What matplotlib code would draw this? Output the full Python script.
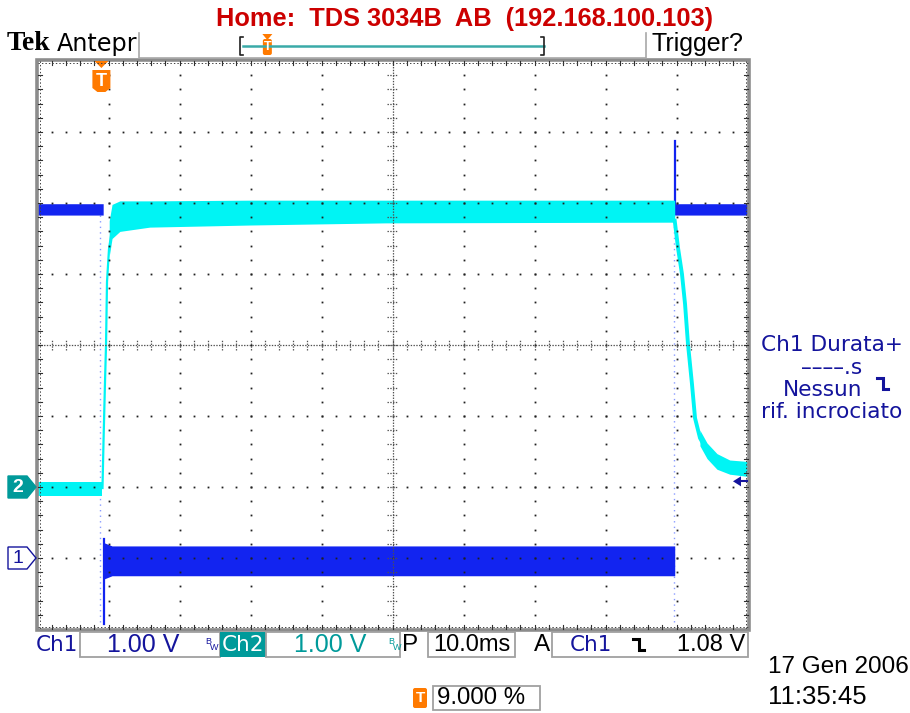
import matplotlib
matplotlib.use('Agg')
import matplotlib.pyplot as plt
from matplotlib.patches import Polygon, Rectangle, FancyBboxPatch
import numpy as np

plt.rcParams['lines.scale_dashes'] = False

TIME_PER_DIV_MS = 10.0
TRIGGER_POS_PCT = 9.0
CH1_OFFSET_DIV = -3.0
CH2_OFFSET_DIV = -2.0
TRIG_LEVEL_V = 1.08
N_HDIV, N_VDIV = 10, 8

# ---------------- Ch1 (blue) data: time ms, volts ----------------
ch1_band_t  = [-9.0, 0.25, 0.25, 1.5, 80.75, 80.75, 91.0]
ch1_band_lo = [4.83, 4.83, -0.30, -0.25, -0.25, 4.83, 4.83]
ch1_band_hi = [4.99, 4.99, 0.22, 0.17, 0.17, 4.99, 4.99]
ch1_spike1_t = [0.30, 0.30]
ch1_spike1_v = [-0.93, 0.27]
ch1_spike2_t = [80.75, 80.75]
ch1_spike2_v = [4.85, 5.87]
ch1_trans_t = [-0.2, 80.6]
ch1_trans_v = [-0.9, 4.9]

# ---------------- Ch2 (cyan) data ----------------
ch2_pre_t  = [-9.0, 0.15]
ch2_pre_lo = [-0.13, -0.13]
ch2_pre_hi = [0.07, 0.07]
ch2_rise_t = [0.15, 0.30, 0.51, 0.65, 0.79, 1.07, 1.49, 1.92]
ch2_rise_v = [-0.03, 0.65, 1.49, 1.99, 2.89, 3.35, 3.63, 3.80]
ch2_top_t  = [1.1, 1.5, 2.6, 6.8, 21.0, 40.0, 80.75]
ch2_top_hi = [3.75, 3.98, 4.03, 4.03, 4.04, 4.04, 4.04]
ch2_top_lo = [3.25, 3.50, 3.60, 3.66, 3.69, 3.72, 3.73]
ch2_fall_t = [80.75, 81.21, 81.77, 82.20, 82.62, 83.18, 83.61, 84.31, 85.30, 86.70, 88.54, 90.65, 91.0]
ch2_fall_v = [3.75, 3.37, 3.00, 2.58, 2.01, 1.45, 0.97, 0.69, 0.51, 0.37, 0.30, 0.27, 0.27]
ch2_tail_t  = [84.3, 85.3, 86.7, 88.5, 91.0]
ch2_tail_hi = [0.80, 0.62, 0.47, 0.38, 0.36]
ch2_tail_lo = [0.58, 0.40, 0.25, 0.18, 0.15]

# ---------------- texts ----------------
title_text = "Home:  TDS 3034B  AB  (192.168.100.103)"
meas_lines = ["Ch1 Durata+", "––––.s", "Nessun", "rif. incrociato"]
ch1_scale = "1.00 V"
ch2_scale = "1.00 V"
time_scale = "10.0ms"
trig_src = "Ch1"
trig_level = "1.08 V"
trig_pos_text = "9.000 %"
date_text = "17 Gen 2006"
time_text = "11:35:45"

C_CH1 = '#1224F0'
C_CH2 = '#00F4F4'
C_NAVY = '#14149C'
C_TEAL = '#009A9A'
C_ORANGE = '#FF7A00'
C_GRAY = '#8C8C8C'
SANS = ['Liberation Sans', 'DejaVu Sans']
DV = ['DejaVu Sans']

W, H = 910, 713
AX_L, AX_R, AX_T, AX_B = 37.5, 747.5, 61.0, 629.0
fig = plt.figure(figsize=(W / 100, H / 100), dpi=100)
fig.patch.set_facecolor('white')
ax = fig.add_axes([AX_L / W, 1 - AX_B / H, (AX_R - AX_L) / W, (AX_B - AX_T) / H], zorder=1)
t0 = -TRIGGER_POS_PCT / 100 * N_HDIV * TIME_PER_DIV_MS
t1 = t0 + N_HDIV * TIME_PER_DIV_MS
ax.set_xlim(t0, t1)
ax.set_ylim(-N_VDIV / 2, N_VDIV / 2)
ax.set_xticks([]); ax.set_yticks([])
for s in ax.spines.values():
    s.set_visible(False)

def d1(v):
    return [CH1_OFFSET_DIV + x for x in v]
def d2(v):
    return [CH2_OFFSET_DIV + x for x in v]

# traces
ax.plot(ch1_trans_t[:1] * 2, d1(ch1_trans_v), color='#8A9CFF', lw=1, ls=(0, (1, 3)), zorder=2)
ax.plot(ch1_trans_t[1:] * 2, d1(ch1_trans_v), color='#8A9CFF', lw=1, ls=(0, (1, 3)), zorder=2)
ax.fill_between(ch1_band_t, d1(ch1_band_lo), d1(ch1_band_hi), color=C_CH1, lw=0, zorder=2)
ax.plot(ch1_spike1_t, d1(ch1_spike1_v), color=C_CH1, lw=1.6, zorder=2)
ax.plot(ch1_spike2_t, d1(ch1_spike2_v), color=C_CH1, lw=1.6, zorder=2)

ax.fill_between(ch2_pre_t, d2(ch2_pre_lo), d2(ch2_pre_hi), color=C_CH2, lw=0, zorder=3)
ax.plot(ch2_rise_t, d2(ch2_rise_v), color=C_CH2, lw=1.6, zorder=3, solid_capstyle='butt')
ax.fill_between(ch2_top_t, d2(ch2_top_lo), d2(ch2_top_hi), color=C_CH2, lw=0, zorder=3)
ax.plot(ch2_fall_t, d2(ch2_fall_v), color=C_CH2, lw=2.8, zorder=3)
ax.fill_between(ch2_tail_t, d2(ch2_tail_lo), d2(ch2_tail_hi), color=C_CH2, lw=0, zorder=3)

# graticule
sub = 5
tdiv = TIME_PER_DIV_MS
xs_minor = [t0 + i * tdiv / sub for i in range(1, N_HDIV * sub)]
ys_minor = [-N_VDIV / 2 + j / sub for j in range(1, N_VDIV * sub)]
xc = t0 + N_HDIV / 2 * tdiv
gx, gy = [], []
for k in range(1, N_HDIV):
    if k == N_HDIV // 2:
        continue
    xv = t0 + k * tdiv
    for yv in ys_minor:
        gx.append(xv); gy.append(yv)
for k in range(1, N_VDIV):
    if k == N_VDIV // 2:
        continue
    yv = -N_VDIV / 2 + k
    for xv in xs_minor:
        gx.append(xv); gy.append(yv)
ax.plot(gx, gy, ls='none', marker='s', ms=1.3, mew=0, color='#202020', zorder=5)
# center cross
ax.plot([t0, t1], [0, 0], color='#505050', lw=0.9, ls=(0, (1, 1)), zorder=5)
ax.plot([xc, xc], [-4, 4], color='#505050', lw=0.9, ls=(0, (1, 1)), zorder=5)
for xv in xs_minor:
    ax.plot([xv, xv], [-0.075, 0.075], color='#505050', lw=0.9, ls=(0, (1, 1)), zorder=5)
for yv in ys_minor:
    ax.plot([xc - 0.75, xc + 0.75], [yv, yv], color='#505050', lw=0.9, ls=(0, (1, 1)), zorder=5)

# overlay in pixel coordinates
ov = fig.add_axes([0, 0, 1, 1], zorder=5)
ov.set_xlim(0, W); ov.set_ylim(H, 0); ov.axis('off'); ov.patch.set_alpha(0)
PX = (AX_R - AX_L) / N_HDIV
PY = (AX_B - AX_T) / N_VDIV
yc_px = (AX_T + AX_B) / 2

# frame
ov.add_patch(Rectangle((AX_L - 1, AX_T - 1), AX_R - AX_L + 2, AX_B - AX_T + 2, fill=False, ec=C_GRAY, lw=2.6))
for k in range(1, N_HDIV * sub):
    x = AX_L + k * PX / sub
    ov.plot([x, x], [AX_T, AX_T + 4], color='#303030', lw=0.8)
    ov.plot([x, x], [AX_B, AX_B - 4], color='#303030', lw=0.8)
for k in range(1, N_VDIV * sub):
    y = AX_T + k * PY / sub
    ov.plot([AX_L, AX_L + 4], [y, y], color='#303030', lw=0.8)
    ov.plot([AX_R, AX_R - 4], [y, y], color='#303030', lw=0.8)
for (xa, ya, xb, yb_) in [(AX_L, AX_T + 2, AX_R, AX_T + 2), (AX_L, AX_B - 2, AX_R, AX_B - 2),
                          (AX_L + 2, AX_T, AX_L + 2, AX_B), (AX_R - 2, AX_T, AX_R - 2, AX_B)]:
    ov.plot([xa, xb], [ya, yb_], color='#404040', lw=0.7, ls=(0, (1, 1.5)))

# header
ov.text(464, 19, title_text, color='#CC0000', fontsize=18.3, fontweight='bold', family=SANS,
        ha='center', va='center')
ov.text(7, 44, "Tek", fontsize=20, fontweight='bold', family=['Liberation Serif', 'DejaVu Serif'],
        ha='left', va='center', color='black')
ov.text(57, 44, "Antepr", fontsize=17.2, family=DV, ha='left', va='center', color='black')
ov.plot([139, 139, 646, 646], [33, 58, 58, 33], color='#A8A8A8', lw=1.2)
ov.text(652, 44, "Trigger?", fontsize=18, family=SANS, ha='left', va='center', color='black')
# record view
ov.plot([243, 544], [46, 46], color='#3AAAA8', lw=1.8)
ov.plot([243, 240, 240, 243], [37, 37, 55, 55], color='#202020', lw=1.2)
ov.plot([541, 544, 544, 541], [37, 37, 55, 55], color='#202020', lw=1.2)
rv_x = 240 + TRIGGER_POS_PCT / 100 * (544 - 240)
ov.add_patch(Polygon([[rv_x - 5, 34], [rv_x + 5, 34], [rv_x, 40]], closed=True, fc=C_ORANGE, ec='none'))
ov.add_patch(FancyBboxPatch((rv_x - 4.5, 39), 9, 16, boxstyle='round,pad=0,rounding_size=2', fc=C_ORANGE, ec='none'))
ov.text(rv_x, 47.5, "T", color='white', fontsize=9, fontweight='bold', family=SANS, ha='center', va='center')

# trigger marker on graticule
trig_px = AX_L + TRIGGER_POS_PCT / 100 * (AX_R - AX_L)
ov.add_patch(Polygon([[trig_px - 7, AX_T], [trig_px + 7, AX_T], [trig_px, AX_T + 7]], closed=True, fc=C_ORANGE, ec='none'))
ov.add_patch(Polygon([[trig_px - 9, 70], [trig_px + 9, 70], [trig_px + 9, 88], [trig_px + 4, 92],
                      [trig_px - 4, 92], [trig_px - 9, 88]], closed=True, fc=C_ORANGE, ec='none'))
ov.text(trig_px, 81, "T", color='white', fontsize=13, fontweight='bold', family=SANS, ha='center', va='center')

# channel ground markers
y2 = yc_px - CH2_OFFSET_DIV * PY
y1 = yc_px - CH1_OFFSET_DIV * PY
ov.add_patch(Polygon([[8, y2 - 11], [27, y2 - 11], [36, y2], [27, y2 + 11], [8, y2 + 11]], closed=True,
                     fc=C_TEAL, ec=C_TEAL, lw=1))
ov.text(18, y2 + 0.5, "2", color='white', fontsize=14, fontweight='bold', family=SANS, ha='center', va='center')
ov.add_patch(Polygon([[8, y1 - 11], [27, y1 - 11], [36, y1], [27, y1 + 11], [8, y1 + 11]], closed=True,
                     fc='white', ec=C_NAVY, lw=1))
ov.text(18, y1 + 0.5, "1", color=C_NAVY, fontsize=14, family=SANS, ha='center', va='center')

# trigger level arrow
yt = yc_px - (CH1_OFFSET_DIV + TRIG_LEVEL_V) * PY
ov.add_patch(Polygon([[733, yt], [741, yt - 5], [741, yt + 5]], closed=True, fc=C_NAVY, ec='none'))
ov.plot([741, AX_R - 1], [yt, yt], color=C_NAVY, lw=1.5)

# measurement readout
mx = 832
for i, s in enumerate(meas_lines):
    ov.text(mx if i != 2 else mx - 9, 345 + i * 22.5, s, color=C_NAVY, fontsize=15.6, family=DV,
            ha='center', va='center')

def edge_symbol(x, y, color, s=1.0):
    ov.plot([x, x + 6 * s, x + 6 * s, x + 12 * s], [y - 6 * s, y - 6 * s, y + 5 * s, y + 5 * s],
            color=color, lw=2.2, solid_joinstyle='miter')

edge_symbol(877, 384, C_NAVY, 0.95)

# bottom status bar
yb = 645
box_kw = dict(fill=False, ec='#A0A0A0', lw=1.3)
ov.text(36, yb, "Ch1", color=C_NAVY, fontsize=15.5, family=DV, ha='left', va='center')
ov.add_patch(Rectangle((80, 632), 140, 25, **box_kw))
ov.text(179, yb, ch1_scale, color=C_NAVY, fontsize=18, family=SANS, ha='right', va='center')
ov.text(205, yb - 4, "B", color=C_NAVY, fontsize=6.5, family=SANS, ha='left', va='center')
ov.text(210, yb + 2, "W", color=C_NAVY, fontsize=6.5, family=SANS, ha='left', va='center')
ov.add_patch(Rectangle((220, 632), 46, 25, fc=C_TEAL, ec='none'))
ov.text(243, yb, "Ch2", color='white', fontsize=15.5, family=DV, ha='center', va='center')
ov.add_patch(Rectangle((266, 632), 134, 25, **box_kw))
ov.text(366, yb, ch2_scale, color=C_TEAL, fontsize=18, family=SANS, ha='right', va='center')
ov.text(388, yb - 4, "B", color=C_TEAL, fontsize=6.5, family=SANS, ha='left', va='center')
ov.text(393, yb + 2, "W", color=C_TEAL, fontsize=6.5, family=SANS, ha='left', va='center')
ov.text(402, yb, "P", color='black', fontsize=17.5, family=SANS, ha='left', va='center')
ov.add_patch(Rectangle((428, 632), 87, 25, **box_kw))
ov.text(433, yb, time_scale, color='black', fontsize=17, family=SANS, ha='left', va='center')
ov.text(534, yb, "A", color='black', fontsize=17.5, family=SANS, ha='left', va='center')
ov.add_patch(Rectangle((552, 632), 196, 25, **box_kw))
ov.text(570, yb, trig_src, color=C_NAVY, fontsize=15.5, family=DV, ha='left', va='center')
edge_symbol(633, yb, 'black', 0.95)
ov.text(745, yb, trig_level, color='black', fontsize=17, family=SANS, ha='right', va='center')

# trigger position readout
ov.add_patch(FancyBboxPatch((413, 688), 14, 20, boxstyle='round,pad=0,rounding_size=2', fc=C_ORANGE, ec='none'))
ov.text(420, 698.5, "T", color='white', fontsize=11, fontweight='bold', family=SANS, ha='center', va='center')
ov.add_patch(Rectangle((433, 686), 107, 24, **box_kw))
ov.text(437, 698, trig_pos_text, color='black', fontsize=17.3, family=SANS, ha='left', va='center')

ov.text(768, 667, date_text, color='black', fontsize=17.5, family=SANS, ha='left', va='center')
ov.text(768, 697, time_text, color='black', fontsize=18.5, family=SANS, ha='left', va='center')

fig.savefig('out.png', dpi=100, facecolor='white')
